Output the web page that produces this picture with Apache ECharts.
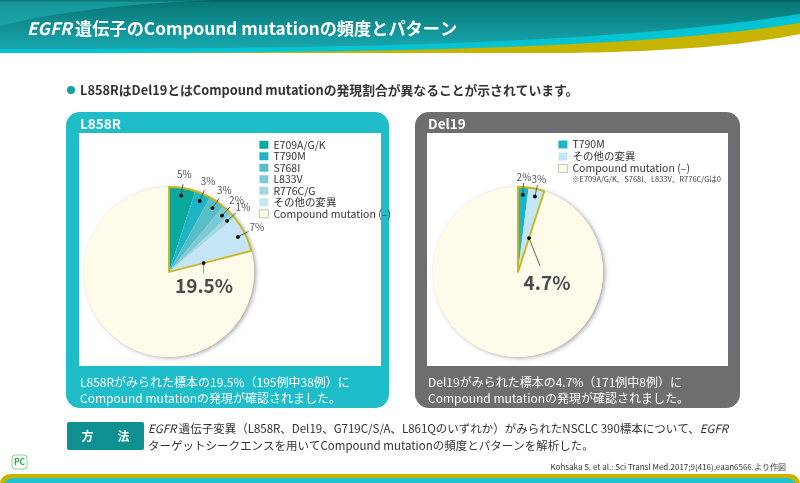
<!DOCTYPE html>
<html><head><meta charset="utf-8">
<script src="https://cdn.jsdelivr.net/npm/echarts@6/dist/echarts.min.js"></script>
<style>html,body{margin:0;padding:0;background:#fff}#c{width:800px;height:483px}</style>
</head><body><div id="c"></div>
<script>
const FONT = '"Noto Sans CJK JP","Noto Sans",sans-serif';

// ---- data ----
const l858rCategories = ['E709A/G/K', 'T790M', 'S768I', 'L833V', 'R776C/G', 'その他の変異', 'Compound mutation (–)'];
const l858rValues = [5, 3, 3, 2, 1, 7, 79];
const l858rLabels = ['5%', '3%', '3%', '2%', '1%', '7%'];
const l858rTotal = '19.5%';

const del19Categories = ['T790M', 'その他の変異', 'Compound mutation (–)'];
const del19Values = [2, 3, 95];
const del19Labels = ['2%', '3%'];
const del19Total = '4.7%';

const COLORS = {
  'E709A/G/K': '#0aa79c',
  'T790M': '#1eb4c6',
  'S768I': '#58bec5',
  'L833V': '#7cc9d7',
  'R776C/G': '#a4d8de',
  'その他の変異': '#c4e5f5',
  'Compound mutation (–)': '#fefbea'
};
const YELLOW = '#c9b612';

function cumMids(vals) {
  const total = vals.reduce((a, b) => a + b, 0);
  let acc = 0;
  return vals.map(v => { const m = (acc + v / 2) / total * 100; acc += v; return m; });
}
function groupShare(vals, n) {
  const total = vals.reduce((a, b) => a + b, 0);
  return vals.slice(0, n).reduce((a, b) => a + b, 0) / total * 100;
}

function pies(cats, vals, center, nGroup) {
  const groupVal = vals.slice(0, nGroup).reduce((a, b) => a + b, 0);
  const restVal = vals.slice(nGroup).reduce((a, b) => a + b, 0);
  const common = { type: 'pie', center, radius: 85, startAngle: 90, clockwise: true, silent: true,
    animation: false, label: { show: false }, labelLine: { show: false }, emphasis: { disabled: true } };
  return [
    Object.assign({}, common, { z: 2, data: [{ value: 1, name: '__bg' + center[0],
      itemStyle: { color: COLORS['Compound mutation (–)'], shadowColor: 'rgba(0,0,0,0.35)', shadowBlur: 4, shadowOffsetX: 2, shadowOffsetY: 1 } }] }),
    Object.assign({}, common, { z: 3, data: cats.map((c, i) => ({ name: c, value: vals[i], itemStyle: { color: COLORS[c], borderWidth: 0 } })) }),
    Object.assign({}, common, { z: 4, data: [
      { value: groupVal, name: '__g' + center[0], itemStyle: { color: 'rgba(0,0,0,0)', borderColor: YELLOW, borderWidth: 1.8 } },
      { value: restVal, name: '__r' + center[0], itemStyle: { color: 'rgba(0,0,0,0)', borderWidth: 0 } }
    ] })
  ];
}

function smallLabels(polarIndex, labels, mids, rLabel) {
  return {
    type: 'custom', coordinateSystem: 'polar', polarIndex, z: 6, silent: true, animation: false,
    data: labels.map((t, i) => [0.91, mids[i]]),
    renderItem: (params, api) => {
      const r = api.value(0), a = api.value(1);
      const p0 = api.coord([r, a]);
      const p1 = api.coord([1.05, a]);
      const p2 = api.coord([rLabel, a]);
      return { type: 'group', children: [
        { type: 'line', shape: { x1: p0[0], y1: p0[1], x2: p1[0], y2: p1[1] }, style: { stroke: '#444', lineWidth: 0.8 } },
        { type: 'circle', shape: { cx: p0[0], cy: p0[1], r: 1.9 }, style: { fill: '#000' } },
        { type: 'text', x: p2[0], y: p2[1], style: { text: labels[params.dataIndex], fontSize: 10, fill: '#555', align: 'center', verticalAlign: 'middle', fontFamily: FONT } }
      ] };
    }
  };
}

function totalLabel(polarIndex, text, angle, lineOff, textOff, lineColor) {
  return {
    type: 'custom', coordinateSystem: 'polar', polarIndex, z: 6, silent: true, animation: false,
    data: [[0.42, angle]],
    renderItem: (params, api) => {
      const p0 = api.coord([api.value(0), api.value(1)]);
      return { type: 'group', children: [
        { type: 'line', shape: { x1: p0[0], y1: p0[1], x2: p0[0] + lineOff[0], y2: p0[1] + lineOff[1] }, style: { stroke: lineColor, lineWidth: 0.9 } },
        { type: 'circle', shape: { cx: p0[0], cy: p0[1], r: 1.9 }, style: { fill: '#000' } },
        { type: 'text', x: p0[0] + textOff[0], y: p0[1] + textOff[1], style: { text, fontSize: 19, fontWeight: 'bold', fill: '#4a4a4a', align: 'center', verticalAlign: 'middle', fontFamily: FONT } }
      ] };
    }
  };
}

// decorative curve helper (header swooshes): samples a cubic bezier
function bez(p0, p1, p2, p3, n) {
  const pts = [];
  for (let i = 0; i <= n; i++) {
    const t = i / n, u = 1 - t;
    pts.push([u*u*u*p0[0] + 3*u*u*t*p1[0] + 3*u*t*t*p2[0] + t*t*t*p3[0],
              u*u*u*p0[1] + 3*u*u*t*p1[1] + 3*u*t*t*p2[1] + t*t*t*p3[1]]);
  }
  return pts;
}

const L_CENTER = [169, 272], R_CENTER = [518, 272];
const lMids = cumMids(l858rValues), rMids = cumMids(del19Values);

const chart = echarts.init(document.getElementById('c'));

const txt = (x, y, text, o) => ({ type: 'text', x, y, z: 5, style: Object.assign({ text, fontFamily: FONT, fontSize: 12, fill: '#333', align: 'left', verticalAlign: 'middle' }, o || {}) });

const yellowPts = [[0, 0], [800, 0]].concat(bez([800, 34], [735, 47], [655, 52], [560, 53], 30)).concat([[0, 53]]);
const cyanPts = [[0, 0], [800, 0]].concat(bez([800, 23], [620, 52], [300, 53], [0, 53], 40));
const darkPts = [[0, 0], [800, 0]].concat(bez([800, 14], [600, 46], [300, 49], [0, 49], 40));
const lightPts = [[0, 0], [220, 0]].concat(bez([220, 0], [130, 3], [55, 12], [0, 26], 20));

const graphic = [
  // header
  { type: 'polygon', z: 0, shape: { points: yellowPts }, style: { fill: '#c7b400' } },
  { type: 'polygon', z: 1, shape: { points: cyanPts }, style: { fill: '#04c3d3' } },
  { type: 'polygon', z: 2, shape: { points: darkPts },
    style: { fill: { type: 'linear', x: 0, y: 0, x2: 0, y2: 1, colorStops: [{ offset: 0, color: '#067472' }, { offset: 1, color: '#19a8b0' }] } } },
  { type: 'polygon', z: 3, shape: { points: lightPts }, style: { fill: 'rgba(40,190,198,0.45)' } },
  { type: 'rect', z: 3, shape: { x: 0, y: 0, width: 800, height: 1.5 }, style: { fill: 'rgba(0,60,60,0.35)' } },
  txt(27, 28, '{i|EGFR}\u2009遺伝子のCompound mutationの頻度とパターン', { fontSize: 17.2, fontWeight: 'bold', fill: '#fff',
    rich: { i: { fontStyle: 'italic', fontWeight: 'bold', fontSize: 17.2, fill: '#fff', fontFamily: FONT } } }),
  // bullet
  { type: 'circle', z: 5, shape: { cx: 71, cy: 90, r: 4 }, style: { fill: '#159fa4' } },
  txt(80, 90, 'L858RはDel19とはCompound mutationの発現割合が異なることが示されています。', { fontSize: 12.8, fontWeight: 'bold' }),
  // left panel
  { type: 'rect', z: 0, shape: { x: 66, y: 112, width: 323, height: 296, r: 14 }, style: { fill: '#1fbdc9' } },
  { type: 'rect', z: 1, shape: { x: 79, y: 133, width: 302, height: 233 }, style: { fill: '#fff' } },
  txt(80, 124, 'L858R', { fontSize: 13.5, fontWeight: 'bold', fill: '#fff' }),
  txt(80, 390, 'L858Rがみられた標本の19.5%（195例中38例）に\nCompound mutationの発現が確認されました。', { fontSize: 12, fill: '#fff', lineHeight: 16 }),
  // right panel
  { type: 'rect', z: 0, shape: { x: 415, y: 112, width: 325, height: 296, r: 14 }, style: { fill: '#6e6e70' } },
  { type: 'rect', z: 1, shape: { x: 427, y: 133, width: 301, height: 233 }, style: { fill: '#fff' } },
  txt(428, 124, 'Del19', { fontSize: 13.5, fontWeight: 'bold', fill: '#fff' }),
  txt(428, 390, 'Del19がみられた標本の4.7%（171例中8例）に\nCompound mutationの発現が確認されました。', { fontSize: 12, fill: '#fff', lineHeight: 16 }),
  txt(572, 179, '※E709A/G/K、S768I、L833V、R776C/Gは0', { fontSize: 7.5, fill: '#444' }),
  // method
  { type: 'rect', z: 1, shape: { x: 67, y: 422, width: 77, height: 28, r: 2 }, style: { fill: '#0e9090' } },
  txt(105.5, 436, '方　　法', { fontSize: 12, fontWeight: 'bold', fill: '#fff', align: 'center' }),
  txt(148, 437, '{i|EGFR}\u2009遺伝子変異（L858R、Del19、G719C/S/A、L861Qのいずれか）がみられたNSCLC 390標本について、{i|EGFR}\nターゲットシークエンスを用いてCompound mutationの頻度とパターンを解析した。',
    { fontSize: 11.5, lineHeight: 17, fill: '#333', rich: { i: { fontStyle: 'italic', fontSize: 11.5, fill: '#333', fontFamily: FONT, lineHeight: 17 } } }),
  txt(786, 467, 'Kohsaka S. et al.: Sci Transl Med.2017;9(416),eaan6566.より作図', { fontSize: 8, align: 'right', fill: '#333' }),
  // logo
  { type: 'rect', z: 1, shape: { x: 12, y: 455, width: 15, height: 14, r: 3 }, style: { fill: '#fff', stroke: '#8ad493', lineWidth: 1 } },
  txt(19.5, 462, 'PC', { fontSize: 8.5, fontWeight: 'bold', fill: '#2aa646', align: 'center' }),
  // footer
  { type: 'rect', z: 1, shape: { x: 0, y: 474, width: 800, height: 24, r: 10 }, style: { fill: '#c7b400' } },
  { type: 'rect', z: 2, shape: { x: 4, y: 478, width: 792, height: 24, r: 9 }, style: { fill: '#1fc2ce' } }
];

const legendText = { fontSize: 10.5, color: '#333', fontFamily: FONT };
const creamLegendStyle = { borderColor: '#b9b6a8', borderWidth: 0.8, shadowBlur: 0, shadowOffsetX: 0, shadowOffsetY: 0 };
const plainLegendStyle = { shadowBlur: 0, shadowOffsetX: 0, shadowOffsetY: 0 };

chart.setOption({
  animation: false,
  textStyle: { fontFamily: FONT },
  graphic,
  polar: [{ center: L_CENTER, radius: 85 }, { center: R_CENTER, radius: 85 }],
  angleAxis: [
    { polarIndex: 0, type: 'value', min: 0, max: 100, startAngle: 90, clockwise: true, show: false },
    { polarIndex: 1, type: 'value', min: 0, max: 100, startAngle: 90, clockwise: true, show: false }
  ],
  radiusAxis: [
    { polarIndex: 0, type: 'value', min: 0, max: 1, show: false },
    { polarIndex: 1, type: 'value', min: 0, max: 1, show: false }
  ],
  legend: [
    { left: 259, top: 139, orient: 'vertical', padding: 0, itemWidth: 9, itemHeight: 8, itemGap: 0, icon: 'rect',
      selectedMode: false, textStyle: Object.assign({ lineHeight: 11.5 }, legendText),
      data: l858rCategories.map(c => ({ name: c, itemStyle: c.startsWith('Compound') ? creamLegendStyle : plainLegendStyle })) },
    { left: 558, top: 138.5, orient: 'vertical', padding: 0, itemWidth: 9, itemHeight: 8, itemGap: 0, icon: 'rect',
      selectedMode: false, textStyle: Object.assign({ lineHeight: 12 }, legendText),
      data: del19Categories.map(c => ({ name: c, itemStyle: c.startsWith('Compound') ? creamLegendStyle : plainLegendStyle })) }
  ],
  series: [
    ...pies(l858rCategories, l858rValues, L_CENTER, l858rLabels.length),
    ...pies(del19Categories, del19Values, R_CENTER, del19Labels.length),
    smallLabels(0, l858rLabels, lMids, 1.16),
    smallLabels(1, del19Labels, rMids, 1.12),
    totalLabel(0, l858rTotal, groupShare(l858rValues, l858rLabels.length), [0, 10], [0.5, 23], '#888'),
    totalLabel(1, del19Total, groupShare(del19Values, del19Labels.length), [11, 28], [18, 45], '#555')
  ]
});
</script></body></html>
